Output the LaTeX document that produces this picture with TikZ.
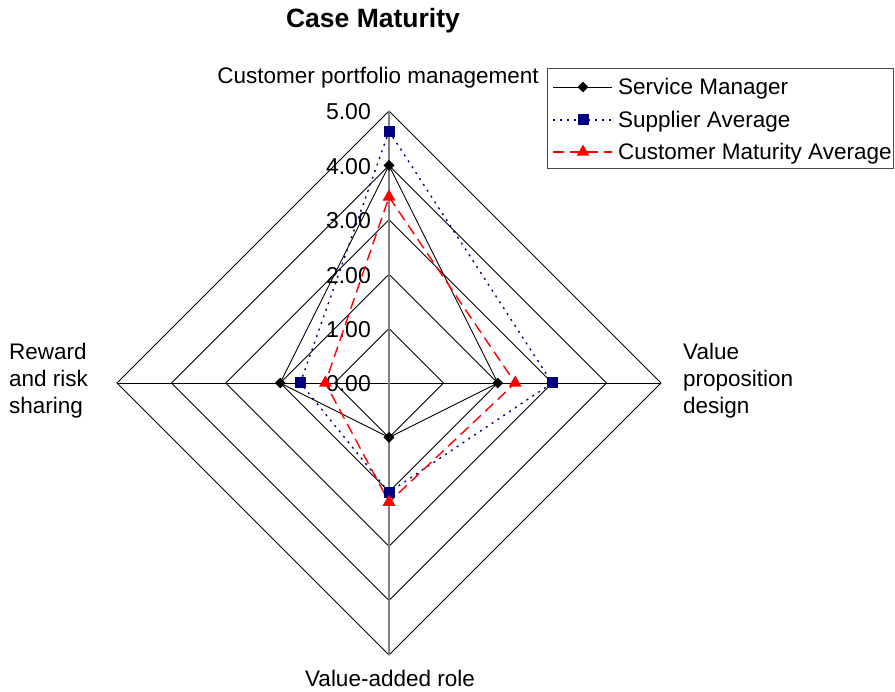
\documentclass[tikz,border=0pt]{standalone}
\usepackage{fontspec}
\setmainfont{Liberation Sans}
\usetikzlibrary{shapes.geometric}
\begin{document}
\begin{tikzpicture}[x=1pt,y=-1pt,
  grid/.style={draw=black,line width=0.9pt},
  vaxis/.style={draw=black!50,line width=1.8pt},
  haxis/.style={draw=black,line width=0.9pt},
  tick/.style={anchor=east,inner sep=0pt,font=\fontsize{23}{25}\selectfont},
  cat/.style={inner sep=0pt,font=\fontsize{22.5}{27}\selectfont},
  smline/.style={draw=black,line width=0.9pt},
  saline/.style={draw={rgb,255:red,0;green,0;blue,128},line width=1.4pt,dash pattern=on 2pt off 5pt},
  cmline/.style={draw=red,line width=1.4pt,dash pattern=on 11pt off 6pt},
  smmark/.style={diamond,fill=black,inner sep=0pt,minimum width=11pt,minimum height=11pt},
  samark/.style={rectangle,fill={rgb,255:red,0;green,0;blue,128},inner sep=0pt,minimum size=11pt},
  cmmark/.style={regular polygon,regular polygon sides=3,fill=red,inner sep=0pt,minimum size=15pt},
  legtext/.style={anchor=west,inner sep=0pt,font=\fontsize{22.5}{25}\selectfont}]
\useasboundingbox (0,0) rectangle (895,692);
\def\cx{389}\def\cy{383}\def\R{54.4}
% grid diamonds
\foreach \v in {1,...,5}{
  \draw[grid] (\cx,\cy-\v*\R) -- (\cx+\v*\R,\cy) -- (\cx,\cy+\v*\R) -- (\cx-\v*\R,\cy) -- cycle;
}
% axes
\draw[haxis] (\cx-5*\R,\cy) -- (\cx+5*\R,\cy);
\draw[vaxis] (\cx,\cy-5*\R) -- (\cx,\cy+5*\R);
% tick labels
\foreach \v/\n in {0/t0,1/t1,2/t2,3/t3,4/t4,5/t5}{
  \node[tick] (\n) at (371,\cy-\v*\R+1) {\v.00};
}
% series coordinates
\coordinate (smT) at (\cx,\cy-4*\R);
\coordinate (smR) at (\cx+2*\R,\cy);
\coordinate (smB) at (\cx,\cy+1*\R);
\coordinate (smL) at (\cx-2*\R,\cy);
\coordinate (saT) at (\cx,\cy-4.63*\R);
\coordinate (saR) at (\cx+3*\R,\cy);
\coordinate (saB) at (\cx,\cy+2.01*\R);
\coordinate (saL) at (\cx-1.63*\R,\cy);
\coordinate (cmT) at (\cx,\cy-3.42*\R);
\coordinate (cmR) at (\cx+2.32*\R,\cy);
\coordinate (cmB) at (\cx,\cy+2.19*\R);
\coordinate (cmL) at (\cx-1.17*\R,\cy);
\draw[smline] (smT) -- (smR) -- (smB) -- (smL) -- cycle;
\draw[saline] (saT) -- (saR) -- (saB) -- (saL) -- cycle;
\draw[cmline] (cmT) -- (cmR) -- (cmB) -- (cmL) -- cycle;
\foreach \p in {smT,smR,smB,smL}{\node[smmark] (m\p) at (\p) {};}
\foreach \p in {saT,saR,saB,saL}{\node[samark] (m\p) at (\p) {};}
\foreach \p in {cmT,cmR,cmB,cmL}{\node[cmmark] (m\p) at (\p) {};}
% title
\node[font=\fontsize{26.5}{28}\selectfont\bfseries,inner sep=0pt] (title) at (373,21) {Case Maturity};
% category labels
\node[cat] (c1) at (378,78) {Customer portfolio management};
\node[cat,align=left,anchor=west] (c2) at (683,381) {Value\\proposition\\design};
\node[cat] (c3) at (390,678) {Value-added role};
\node[cat,align=left,anchor=west] (c4) at (9,381) {Reward\\and risk\\sharing};
% legend
\draw[black!70,line width=1pt] (547,69) rectangle (893,169);
\coordinate (l1a) at (553,87); \coordinate (l1b) at (612,87);
\coordinate (l2a) at (553,120); \coordinate (l2b) at (612,120);
\coordinate (l3a) at (553,152); \coordinate (l3b) at (612,152);
\draw[smline] (l1a) -- (l1b);
\draw[saline] (l2a) -- (l2b);
\draw[cmline] (l3a) -- (l3b);
\node[smmark] (lm1) at (583,87) {};
\node[samark] (lm2) at (583,120) {};
\node[cmmark] (lm3) at (583,152) {};
\node[legtext] (lt1) at (618,89) {Service Manager};
\node[legtext] (lt2) at (618,122) {Supplier Average};
\node[legtext] (lt3) at (618,154) {Customer Maturity Average};
\end{tikzpicture}
\end{document}
